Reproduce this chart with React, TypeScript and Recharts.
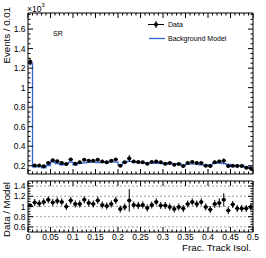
import React from 'react';
import { ComposedChart, Line, Scatter, XAxis, YAxis, ErrorBar, ReferenceArea, ReferenceLine } from 'recharts';

// histogram binning: 50 bins of 0.01 on [0, 0.5]
const BIN_WIDTH = 0.01;
const N_BINS = 50;

// events per bin, in units of 10^3
const dataCounts = [
  1.265, 0.203, 0.201, 0.194, 0.228, 0.257, 0.246, 0.229, 0.218, 0.264,
  0.221, 0.235, 0.260, 0.252, 0.252, 0.260, 0.244, 0.235, 0.252, 0.264,
  0.200, 0.235, 0.275, 0.244, 0.238, 0.235, 0.220, 0.238, 0.244, 0.235,
  0.220, 0.228, 0.210, 0.218, 0.196, 0.228, 0.238, 0.228, 0.228, 0.200,
  0.196, 0.235, 0.244, 0.250, 0.196, 0.200, 0.196, 0.196, 0.180, 0.173,
];
const dataErrors = [
  0.036, 0.014, 0.014, 0.014, 0.015, 0.016, 0.016, 0.015, 0.015, 0.016,
  0.015, 0.015, 0.016, 0.016, 0.016, 0.016, 0.016, 0.015, 0.016, 0.016,
  0.014, 0.015, 0.035, 0.016, 0.015, 0.015, 0.015, 0.015, 0.016, 0.015,
  0.015, 0.015, 0.014, 0.015, 0.014, 0.015, 0.015, 0.015, 0.015, 0.014,
  0.014, 0.016, 0.018, 0.025, 0.014, 0.014, 0.014, 0.014, 0.013, 0.013,
];
const bgModel = [
  1.245, 0.188, 0.190, 0.178, 0.202, 0.238, 0.222, 0.210, 0.218, 0.236,
  0.210, 0.224, 0.230, 0.235, 0.240, 0.232, 0.237, 0.233, 0.240, 0.236,
  0.210, 0.237, 0.245, 0.237, 0.233, 0.228, 0.227, 0.231, 0.224, 0.230,
  0.216, 0.230, 0.221, 0.220, 0.204, 0.217, 0.218, 0.217, 0.209, 0.202,
  0.209, 0.224, 0.228, 0.221, 0.213, 0.192, 0.204, 0.204, 0.188, 0.175,
];
const ratioValues = [
  1.02, 1.08, 1.06, 1.09, 1.13, 1.08, 1.11, 1.09, 1.00, 1.12,
  1.05, 1.05, 1.13, 1.07, 1.05, 1.12, 1.03, 1.01, 1.05, 1.12,
  0.95, 0.99, 1.12, 1.03, 1.02, 1.03, 0.97, 1.03, 1.09, 1.02,
  1.02, 0.99, 0.95, 0.99, 0.96, 1.05, 1.09, 1.05, 1.09, 0.99,
  0.94, 1.05, 1.07, 1.13, 0.92, 1.04, 0.96, 0.96, 0.96, 0.99,
];
const ratioErrors = [
  0.03, 0.07, 0.07, 0.07, 0.07, 0.07, 0.07, 0.07, 0.07, 0.07,
  0.07, 0.07, 0.07, 0.07, 0.07, 0.07, 0.07, 0.07, 0.07, 0.07,
  0.07, 0.07, 0.22, 0.07, 0.07, 0.07, 0.07, 0.07, 0.07, 0.07,
  0.07, 0.07, 0.07, 0.07, 0.07, 0.07, 0.07, 0.07, 0.07, 0.07,
  0.07, 0.08, 0.09, 0.13, 0.07, 0.07, 0.07, 0.07, 0.07, 0.07,
];

const ratioGrid = [0.6, 0.8, 1.0, 1.2, 1.4];
const topYDomain = [0.115, 1.765];
const ratioYDomain = [0.5, 1.5];

const FONT = '"Liberation Sans", Arial, Helvetica, sans-serif';
const BLUE = '#3465d4';
const PLOT_W = 225;
const TOP_H = 161;
const RATIO_H = 51;

const binCenters = dataCounts.map((_, i) => (i + 0.5) * BIN_WIDTH);

const dataPoints = dataCounts.map((y, i) => ({ x: binCenters[i], y, ex: BIN_WIDTH / 2, ey: dataErrors[i] }));
const ratioPoints = ratioValues.map((y, i) => ({ x: binCenters[i], y, ex: BIN_WIDTH / 2, ey: ratioErrors[i] }));
// step outline needs the right edge of the last bin too
const modelSteps = [
  ...bgModel.map((y, i) => ({ x: i * BIN_WIDTH, y })),
  { x: N_BINS * BIN_WIDTH, y: bgModel[N_BINS - 1] },
];

const xTicks = Array.from({ length: N_BINS + 1 }, (_, i) => i * BIN_WIDTH);
const yTicksTop = Array.from({ length: 33 }, (_, i) => 0.15 + i * 0.05);
const yTicksRatio = Array.from({ length: 19 }, (_, i) => 0.55 + i * 0.05);

const fmt = (v: number) => String(Number(v.toFixed(2)));

const makeXTick = (plotH: number, labels: boolean) => (props: any) => {
  const { x, y, payload } = props;
  const major = Math.round(payload.value * 100) % 5 === 0;
  const len = major ? 5 : 2.5;
  return (
    <g>
      <line x1={x} y1={y} x2={x} y2={y - len} stroke="#000" />
      <line x1={x} y1={y - plotH} x2={x} y2={y - plotH + len} stroke="#000" />
      {labels && major && (
        <text x={x} y={y + 7.5} textAnchor="middle" fontSize={8.5} fontFamily={FONT} fill="#000">
          {fmt(payload.value)}
        </text>
      )}
    </g>
  );
};

const yTick = (props: any) => {
  const { x, y, payload } = props;
  const major = Math.round(payload.value * 100) % 20 === 0;
  const len = major ? 5 : 2.5;
  return (
    <g>
      <line x1={x} y1={y} x2={x + len} y2={y} stroke="#000" />
      <line x1={x + PLOT_W} y1={y} x2={x + PLOT_W - len} y2={y} stroke="#000" />
      {major && (
        <text x={x - 2.5} y={y + 3} textAnchor="end" fontSize={8.5} fontFamily={FONT} fill="#000">
          {fmt(payload.value)}
        </text>
      )}
    </g>
  );
};

const dot = (p: any) => <circle cx={p.cx} cy={p.cy} r={2} fill="#000" />;

export default function App() {
  return (
    <div style={{ position: 'absolute', left: 0, top: 0, width: 266, height: 258, background: '#fff' }}>
      <div style={{ position: 'absolute', left: 0, top: 0 }}>
        <ComposedChart width={266} height={176} margin={{ top: 13, right: 13, bottom: 0, left: 0 }}>
          <XAxis dataKey="x" type="number" domain={[0, 0.5]} allowDataOverflow ticks={xTicks} interval={0}
            height={2} tickSize={0} tickMargin={0} tickLine={false} axisLine={false} tick={makeXTick(TOP_H, false)} />
          <YAxis type="number" domain={topYDomain} allowDataOverflow ticks={yTicksTop} interval={0}
            width={28} tickSize={0} tickMargin={0} tickLine={false} axisLine={false} tick={yTick} />
          <Line data={modelSteps} dataKey="y" type="stepAfter" stroke={BLUE} strokeWidth={1.3}
            dot={false} isAnimationActive={false} />
          <Scatter data={dataPoints} dataKey="y" shape={dot} isAnimationActive={false}>
            <ErrorBar dataKey="ey" direction="y" width={0} stroke="#000" strokeWidth={1} />
            <ErrorBar dataKey="ex" direction="x" width={0} stroke="#000" strokeWidth={1} />
          </Scatter>
          <ReferenceArea x1={0} x2={0.5} y1={topYDomain[0]} y2={topYDomain[1]} fill="none" stroke="#000" strokeWidth={1} />
        </ComposedChart>
      </div>

      <div style={{ position: 'absolute', left: 0, top: 174 }}>
        <ComposedChart width={266} height={84} margin={{ top: 7, right: 13, bottom: 0, left: 0 }}>
          <XAxis dataKey="x" type="number" domain={[0, 0.5]} allowDataOverflow ticks={xTicks} interval={0}
            height={26} tickSize={0} tickMargin={0} tickLine={false} axisLine={false} tick={makeXTick(RATIO_H, true)} />
          <YAxis type="number" domain={ratioYDomain} allowDataOverflow ticks={yTicksRatio} interval={0}
            width={28} tickSize={0} tickMargin={0} tickLine={false} axisLine={false} tick={yTick} />
          {ratioGrid.map((v) => (
            <ReferenceLine key={v} y={v} stroke="#888" strokeDasharray="2 2" strokeWidth={0.8} />
          ))}
          <Scatter data={ratioPoints} dataKey="y" shape={dot} isAnimationActive={false}>
            <ErrorBar dataKey="ey" direction="y" width={0} stroke="#000" strokeWidth={1} />
            <ErrorBar dataKey="ex" direction="x" width={0} stroke="#000" strokeWidth={1} />
          </Scatter>
          <ReferenceArea x1={0} x2={0.5} y1={ratioYDomain[0]} y2={ratioYDomain[1]} fill="none" stroke="#000" strokeWidth={1} />
        </ComposedChart>
      </div>

      {/* titles, legend and labels drawn ROOT-style on top */}
      <svg width={266} height={258} style={{ position: 'absolute', left: 0, top: 0, pointerEvents: 'none' }}
        fontFamily={FONT}>
        <text x={27} y={12} fontSize={8.5}>×10</text>
        <text x={41.5} y={7} fontSize={6}>3</text>
        <text transform="translate(9.5,7) rotate(-90)" textAnchor="end" fontSize={9.7}>Events / 0.01</text>
        <text transform="translate(9.5,182) rotate(-90)" textAnchor="end" fontSize={9.7}>Data / Model</text>
        <text x={251} y={250.5} textAnchor="end" fontSize={9.7}>Frac. Track Isol.</text>
        <text x={53} y={36} fontSize={7}>SR</text>

        <line x1={148} y1={24.5} x2={164} y2={24.5} stroke="#000" />
        <line x1={156} y1={21} x2={156} y2={28} stroke="#000" />
        <circle cx={156} cy={24.5} r={2} fill="#000" />
        <text x={168} y={27} fontSize={7}>Data</text>
        <line x1={149} y1={38.5} x2={165} y2={38.5} stroke={BLUE} strokeWidth={1.3} />
        <text x={168} y={41} fontSize={7}>Background Model</text>
      </svg>
    </div>
  );
}
